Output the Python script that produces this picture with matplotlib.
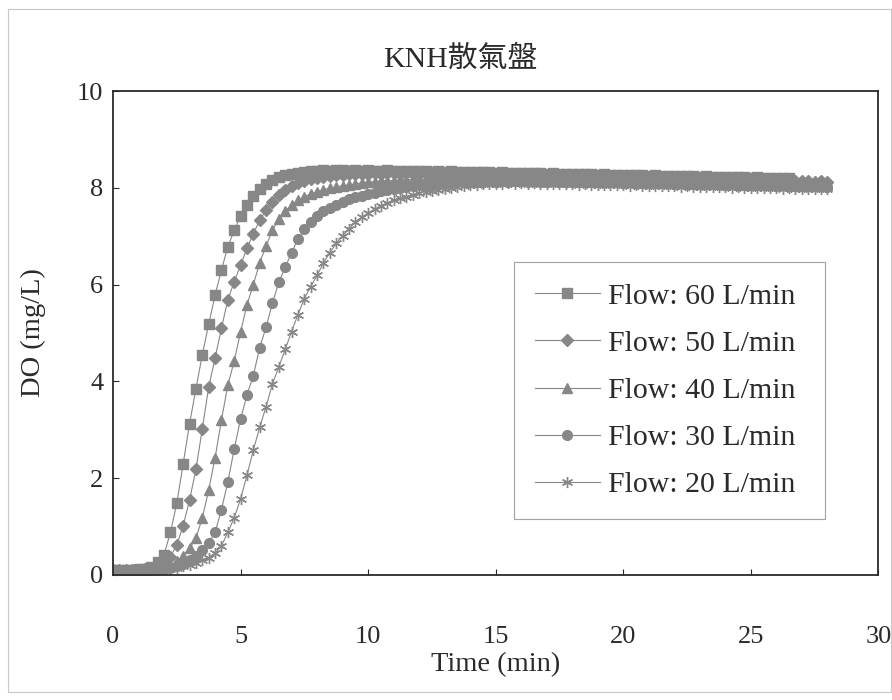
import numpy as np
import matplotlib
matplotlib.use("Agg")
import matplotlib.pyplot as plt
from matplotlib.patches import Rectangle

# sampling grid (min), every 15 s
time = np.arange(0, 28.01, 0.25)

labels = ["Flow: 60 L/min", "Flow: 50 L/min", "Flow: 40 L/min",
          "Flow: 30 L/min", "Flow: 20 L/min"]

# DO (mg/L), one row per minute
do_60 = [0.10, 0.10, 0.11, 0.10, 0.12, 0.13, 0.17, 0.26,
         0.42, 0.88, 1.48, 2.30, 3.12, 3.85, 4.55, 5.18,
         5.78, 6.30, 6.78, 7.12, 7.42, 7.64, 7.84, 7.98,
         8.08, 8.16, 8.22, 8.26, 8.29, 8.31, 8.33, 8.34,
         8.35, 8.36, 8.35, 8.36, 8.36, 8.35, 8.36, 8.35,
         8.36, 8.35, 8.35, 8.36, 8.35, 8.34, 8.35, 8.34,
         8.34, 8.35, 8.33, 8.34, 8.33, 8.34, 8.33, 8.32,
         8.33, 8.32, 8.33, 8.32, 8.31, 8.32, 8.31, 8.30,
         8.31, 8.30, 8.30, 8.31, 8.29, 8.30, 8.29, 8.28,
         8.29, 8.28, 8.28, 8.29, 8.27, 8.28, 8.27, 8.26,
         8.27, 8.26, 8.26, 8.27, 8.25, 8.26, 8.25, 8.24,
         8.25, 8.24, 8.24, 8.25, 8.23, 8.24, 8.23, 8.22,
         8.23, 8.22, 8.22, 8.23, 8.21, 8.22, 8.21, 8.20,
         8.21, 8.20, 8.20]
do_50 = [0.10, 0.10, 0.10, 0.11, 0.11, 0.12, 0.14, 0.17,
         0.24, 0.38, 0.62, 1.02, 1.55, 2.18, 3.02, 3.88,
         4.48, 5.10, 5.68, 6.06, 6.40, 6.75, 7.05, 7.33,
         7.54, 7.71, 7.85, 7.95, 8.03, 8.09, 8.14, 8.18,
         8.21, 8.23, 8.25, 8.26, 8.27, 8.28, 8.29, 8.28,
         8.29, 8.30, 8.29, 8.30, 8.30, 8.29, 8.30, 8.29,
         8.29, 8.30, 8.28, 8.29, 8.28, 8.29, 8.28, 8.27,
         8.28, 8.27, 8.27, 8.28, 8.26, 8.27, 8.26, 8.25,
         8.26, 8.25, 8.25, 8.26, 8.24, 8.25, 8.24, 8.23,
         8.24, 8.23, 8.23, 8.24, 8.22, 8.23, 8.22, 8.21,
         8.22, 8.21, 8.21, 8.22, 8.20, 8.21, 8.20, 8.19,
         8.20, 8.19, 8.19, 8.20, 8.18, 8.19, 8.18, 8.17,
         8.18, 8.17, 8.17, 8.18, 8.16, 8.17, 8.16, 8.15,
         8.16, 8.15, 8.15, 8.14, 8.14, 8.15, 8.13, 8.14,
         8.13]
do_40 = [0.10, 0.10, 0.10, 0.10, 0.11, 0.11, 0.12, 0.14,
         0.16, 0.20, 0.28, 0.40, 0.55, 0.76, 1.18, 1.75,
         2.42, 3.20, 3.92, 4.42, 5.02, 5.58, 6.00, 6.45,
         6.80, 7.12, 7.35, 7.52, 7.64, 7.74, 7.82, 7.87,
         7.92, 7.96, 7.99, 8.02, 8.04, 8.06, 8.08, 8.10,
         8.11, 8.13, 8.14, 8.15, 8.15, 8.16, 8.17, 8.17,
         8.18, 8.18, 8.19, 8.18, 8.19, 8.20, 8.19, 8.20,
         8.20, 8.19, 8.20, 8.19, 8.19, 8.20, 8.18, 8.19,
         8.18, 8.19, 8.18, 8.17, 8.18, 8.17, 8.17, 8.18,
         8.16, 8.17, 8.16, 8.15, 8.16, 8.15, 8.15, 8.16,
         8.14, 8.15, 8.14, 8.13, 8.14, 8.13, 8.13, 8.14,
         8.12, 8.13, 8.12, 8.11, 8.12, 8.11, 8.11, 8.12,
         8.10, 8.11, 8.10, 8.09, 8.10, 8.09, 8.09, 8.10,
         8.08, 8.09, 8.08, 8.07, 8.08, 8.07, 8.07, 8.08,
         8.06]
do_30 = [0.10, 0.10, 0.10, 0.10, 0.10, 0.11, 0.11, 0.12,
         0.13, 0.15, 0.18, 0.23, 0.30, 0.40, 0.52, 0.66,
         0.88, 1.35, 1.92, 2.60, 3.22, 3.72, 4.12, 4.70,
         5.12, 5.62, 6.05, 6.36, 6.66, 6.94, 7.14, 7.30,
         7.42, 7.52, 7.59, 7.65, 7.71, 7.76, 7.80, 7.84,
         7.87, 7.90, 7.93, 7.96, 7.98, 8.00, 8.02, 8.04,
         8.05, 8.06, 8.08, 8.09, 8.10, 8.11, 8.11, 8.12,
         8.13, 8.12, 8.13, 8.14, 8.13, 8.14, 8.13, 8.14,
         8.14, 8.13, 8.14, 8.13, 8.13, 8.14, 8.12, 8.13,
         8.12, 8.13, 8.12, 8.11, 8.12, 8.11, 8.11, 8.12,
         8.10, 8.11, 8.10, 8.09, 8.10, 8.09, 8.09, 8.10,
         8.08, 8.09, 8.08, 8.07, 8.08, 8.07, 8.07, 8.08,
         8.06, 8.07, 8.06, 8.05, 8.06, 8.05, 8.05, 8.06,
         8.04, 8.05, 8.04, 8.03, 8.04, 8.03, 8.03, 8.04,
         8.02]
do_20 = [0.10, 0.10, 0.10, 0.10, 0.10, 0.10, 0.11, 0.11,
         0.12, 0.13, 0.15, 0.18, 0.21, 0.25, 0.30, 0.36,
         0.45, 0.60, 0.88, 1.18, 1.57, 2.06, 2.58, 3.05,
         3.48, 3.95, 4.30, 4.66, 5.03, 5.38, 5.71, 5.96,
         6.19, 6.45, 6.66, 6.85, 7.01, 7.15, 7.30, 7.39,
         7.48, 7.56, 7.63, 7.69, 7.74, 7.78, 7.82, 7.86,
         7.89, 7.92, 7.94, 7.96, 7.98, 8.00, 8.02, 8.03,
         8.05, 8.06, 8.07, 8.07, 8.08, 8.08, 8.09, 8.08,
         8.09, 8.08, 8.09, 8.08, 8.08, 8.07, 8.08, 8.07,
         8.07, 8.06, 8.07, 8.06, 8.06, 8.05, 8.06, 8.05,
         8.05, 8.04, 8.05, 8.04, 8.04, 8.03, 8.04, 8.03,
         8.03, 8.02, 8.03, 8.02, 8.02, 8.01, 8.02, 8.01,
         8.01, 8.00, 8.01, 8.00, 8.00, 7.99, 8.00, 7.99,
         7.99, 7.98, 7.99, 7.98, 7.98, 7.97, 7.98, 7.97,
         7.97]

series = [do_60, do_50, do_40, do_30, do_20]
markers = ["s", "D", "^", "o", (6, 2, 0)]
msizes = [6.5, 6, 7, 7, 8]

serif = ["Liberation Serif", "Noto Sans CJK TC", "DejaVu Sans"]
plt.rcParams["font.family"] = serif
ink = "#2a2a2a"
grey = "#878787"

fig = plt.figure(figsize=(8.92, 7.0), dpi=100)
ax = fig.add_axes([0.1267, 0.1786, 0.858, 0.6914])

for y, m, ms, lab in zip(series, markers, msizes, labels):
    ax.plot(time[:len(y)], y, color=grey, lw=0.8, marker=m, ms=ms,
            mfc=grey, mec=grey, mew=1.0, label=lab)

ax.set_xlim(0, 30)
ax.set_ylim(0, 10)
ax.set_xticks([0, 5, 10, 15, 20, 25, 30])
ax.set_yticks([0, 2, 4, 6, 8, 10])
ax.tick_params(direction="in", length=4, width=0.8, colors=ink,
               labelsize=19)
ax.tick_params(axis="x", pad=37)
ax.tick_params(axis="y", pad=7)
for s in ax.spines.values():
    s.set_color(ink)
    s.set_linewidth(1.3)

ax.set_xlabel("Time (min)", fontsize=20.5, color=ink, labelpad=3)
ax.set_ylabel("DO (mg/L)", fontsize=20.5, color=ink, labelpad=22)
fig.text(0.516, 0.915, "KNH散氣盤", fontsize=21.5, color=ink,
         ha="center", va="center")

leg = ax.legend(loc="upper left", bbox_to_anchor=(0.5235, 0.3, 0.407, 0.347),
                mode="expand", fontsize=21.5, frameon=True, fancybox=False,
                edgecolor="#8a8a8a", borderpad=0.7, labelspacing=0.68,
                handlelength=2.2, handletextpad=0.25, borderaxespad=0)
leg.get_frame().set_linewidth(0.8)
for t in leg.get_texts():
    t.set_color(ink)

# faint outer chart-area border from the scan
fig.patches.append(Rectangle((0.009, 0.012), 0.99, 0.975,
                             transform=fig.transFigure, fill=False,
                             edgecolor="#c8c8c8", lw=0.8))

fig.savefig("out.png", dpi=100)
